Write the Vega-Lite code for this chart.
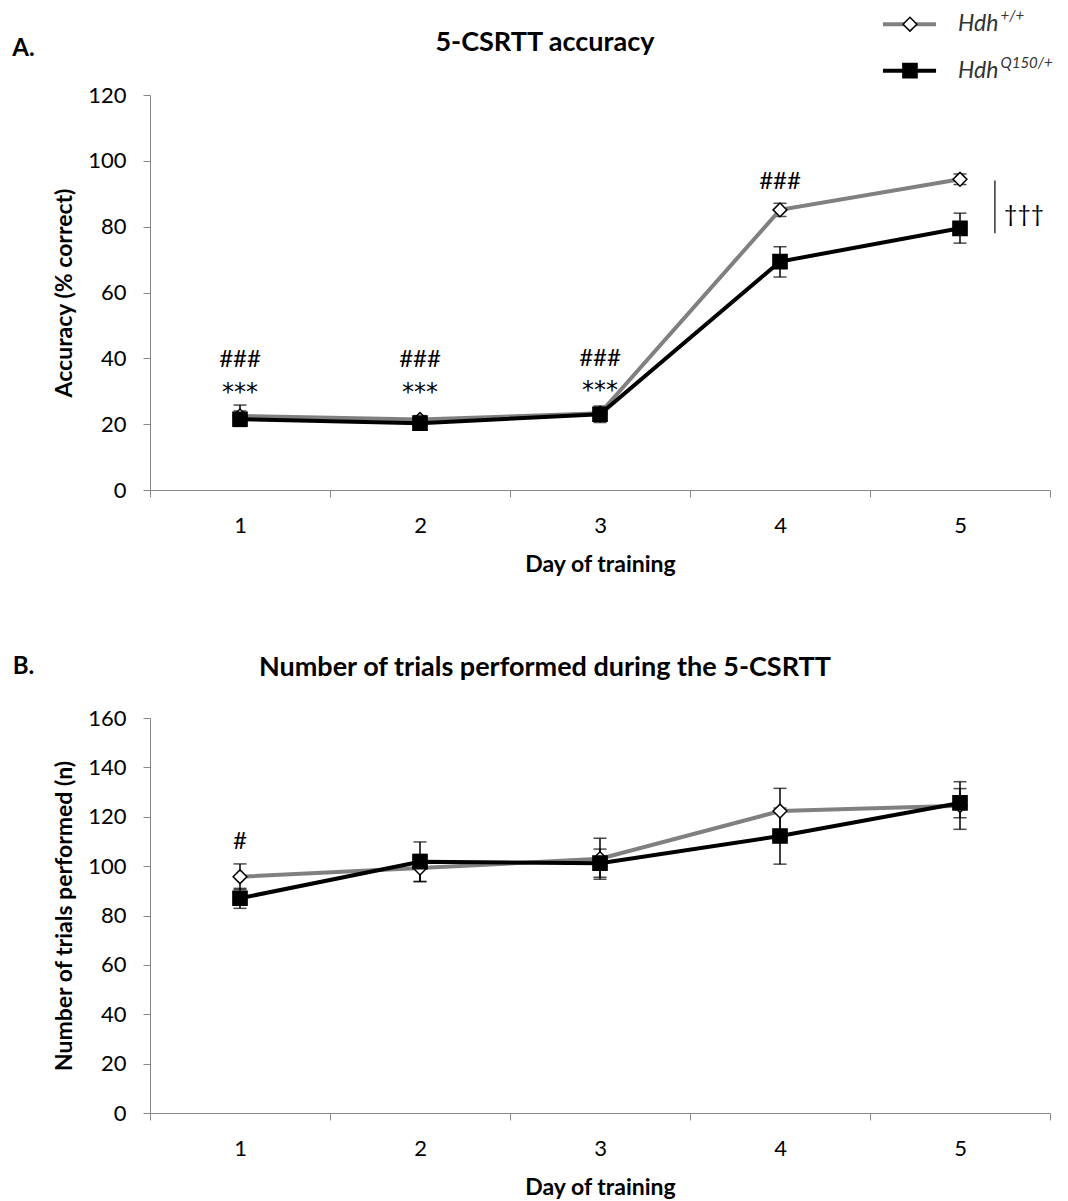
{
  "$schema": "https://vega.github.io/schema/vega-lite/v6.json",
  "autosize": {"type": "pad"},
  "padding": {"left": 12, "top": 9, "right": 0, "bottom": 0},
  "background": "white",
  "spacing": 228,
  "bounds": "flush",
  "datasets": {
    "A": [
      {"day": 1, "genotype": "Hdh+/+", "v": 22.5, "lo": 21.0, "hi": 24.0},
      {"day": 2, "genotype": "Hdh+/+", "v": 21.4, "lo": 20.2, "hi": 22.6},
      {"day": 3, "genotype": "Hdh+/+", "v": 23.3, "lo": 21.8, "hi": 24.8},
      {"day": 4, "genotype": "Hdh+/+", "v": 85.1, "lo": 83.1, "hi": 87.1},
      {"day": 5, "genotype": "Hdh+/+", "v": 94.4, "lo": 92.8, "hi": 96.0},
      {"day": 1, "genotype": "HdhQ150/+", "v": 21.5, "lo": 19.3, "hi": 25.8},
      {"day": 2, "genotype": "HdhQ150/+", "v": 20.3, "lo": 18.8, "hi": 21.8},
      {"day": 3, "genotype": "HdhQ150/+", "v": 23.0, "lo": 20.5, "hi": 25.5},
      {"day": 4, "genotype": "HdhQ150/+", "v": 69.4, "lo": 64.7, "hi": 73.9},
      {"day": 5, "genotype": "HdhQ150/+", "v": 79.5, "lo": 75.0, "hi": 84.1}
    ],
    "B": [
      {"day": 1, "genotype": "Hdh+/+", "v": 95.7, "lo": 90.5, "hi": 100.9},
      {"day": 2, "genotype": "Hdh+/+", "v": 99.2, "lo": 93.7, "hi": 104.7},
      {"day": 3, "genotype": "Hdh+/+", "v": 103.0, "lo": 94.7, "hi": 111.3},
      {"day": 4, "genotype": "Hdh+/+", "v": 122.3, "lo": 113.0, "hi": 131.5},
      {"day": 5, "genotype": "Hdh+/+", "v": 124.5, "lo": 114.9, "hi": 134.2},
      {"day": 1, "genotype": "HdhQ150/+", "v": 87.0, "lo": 82.9, "hi": 91.0},
      {"day": 2, "genotype": "HdhQ150/+", "v": 101.8, "lo": 93.8, "hi": 109.8},
      {"day": 3, "genotype": "HdhQ150/+", "v": 101.2, "lo": 95.5, "hi": 106.9},
      {"day": 4, "genotype": "HdhQ150/+", "v": 112.2, "lo": 100.8, "hi": 123.5},
      {"day": 5, "genotype": "HdhQ150/+", "v": 125.6, "lo": 119.6, "hi": 131.4}
    ],
    "hashA": [
      {"day": 1, "v": 39.5, "t": "###"},
      {"day": 2, "v": 39.5, "t": "###"},
      {"day": 3, "v": 39.8, "t": "###"},
      {"day": 4, "v": 93.7, "t": "###"}
    ],
    "starA": [
      {"day": 1, "v": 29.4, "t": "***"},
      {"day": 2, "v": 29.4, "t": "***"},
      {"day": 3, "v": 30.2, "t": "***"}
    ],
    "annB": [
      {"day": 1, "v": 109.9, "t": "#"}
    ],
    "one": [{}]
  },
  "config": {
    "view": {"stroke": null},
    "font": "Lato",
    "axis": {
      "grid": false,
      "domainColor": "#888888",
      "tickColor": "#888888",
      "domainWidth": 1,
      "tickWidth": 1,
      "tickSize": 7,
      "labelFont": "Lato",
      "labelFontSize": 22,
      "labelColor": "#000000",
      "titleFont": "Lato",
      "titleFontSize": 23,
      "titleFontWeight": "bold",
      "titleColor": "#000000"
    }
  },
  "vconcat": [
    {
      "width": 900,
      "height": 395,
      "layer": [
        {
          "data": {"name": "A"},
          "mark": {"type": "errorbar", "color": "black", "ticks": {"size": 13, "thickness": 1.5}, "rule": {"strokeWidth": 1.5}},
          "encoding": {
            "x": {"field": "day", "type": "quantitative", "scale": {"domain": [0.5, 5.5], "nice": false, "zero": false},
              "axis": {"values": [0.5, 1.5, 2.5, 3.5, 4.5, 5.5], "labelExpr": "datum.value < 5 ? format(datum.value + 0.5, 'd') : ''", "labelOffset": 90, "labelPadding": 18, "labelFlush": false, "labelOverlap": false, "labelBound": false, "title": "Day of training", "titlePadding": 17}},
            "y": {"field": "lo", "type": "quantitative", "scale": {"domain": [0, 120], "nice": false, "zero": false},
              "axis": {"values": [0, 20, 40, 60, 80, 100, 120], "labelPadding": 17, "title": "Accuracy (% correct)", "titlePadding": 11}},
            "y2": {"field": "hi"}
          }
        },
        {
          "data": {"name": "A"},
          "mark": {"type": "line", "strokeWidth": 4},
          "encoding": {
            "x": {"field": "day", "type": "quantitative"},
            "y": {"field": "v", "type": "quantitative"},
            "color": {"field": "genotype", "type": "nominal", "scale": {"domain": ["Hdh+/+", "HdhQ150/+"], "range": ["#808080", "#000000"]}, "legend": null}
          }
        },
        {
          "data": {"name": "A"},
          "mark": {"type": "point", "filled": true, "stroke": "black", "strokeWidth": 1.5, "opacity": 1},
          "encoding": {
            "x": {"field": "day", "type": "quantitative"},
            "y": {"field": "v", "type": "quantitative"},
            "shape": {"field": "genotype", "type": "nominal", "scale": {"domain": ["Hdh+/+", "HdhQ150/+"], "range": ["diamond", "square"]}, "legend": null},
            "fill": {"field": "genotype", "type": "nominal", "scale": {"domain": ["Hdh+/+", "HdhQ150/+"], "range": ["white", "black"]}, "legend": null},
            "size": {"field": "genotype", "type": "nominal", "scale": {"domain": ["Hdh+/+", "HdhQ150/+"], "range": [190, 200]}, "legend": null}
          }
        },
        {
          "data": {"name": "hashA"},
          "mark": {"type": "text", "fontSize": 24, "color": "black", "baseline": "middle", "align": "center"},
          "encoding": {
            "x": {"field": "day", "type": "quantitative"},
            "y": {"field": "v", "type": "quantitative"},
            "text": {"field": "t"}
          }
        },
        {
          "data": {"name": "starA"},
          "mark": {"type": "text", "font": "DejaVu Sans", "fontSize": 24, "color": "black", "baseline": "middle", "align": "center"},
          "encoding": {
            "x": {"field": "day", "type": "quantitative"},
            "y": {"field": "v", "type": "quantitative"},
            "text": {"field": "t"}
          }
        },
        {
          "data": {"name": "one"},
          "mark": {"type": "rule", "color": "black", "strokeWidth": 1.2},
          "encoding": {
            "x": {"datum": 5.194, "type": "quantitative"},
            "y": {"datum": 94.0, "type": "quantitative"},
            "y2": {"datum": 78.0}
          }
        },
        {
          "data": {"name": "one"},
          "mark": {"type": "text", "text": "†††", "fontSize": 23, "color": "black", "baseline": "middle", "align": "center"},
          "encoding": {
            "x": {"datum": 5.356, "type": "quantitative"},
            "y": {"datum": 83.6, "type": "quantitative"}
          }
        },
        {
          "data": {"name": "one"},
          "mark": {"type": "text", "text": "A.", "fontSize": 24, "fontWeight": "bold", "color": "black", "baseline": "middle", "align": "center"},
          "encoding": {
            "x": {"datum": -0.203, "type": "quantitative"},
            "y": {"datum": 134.1, "type": "quantitative"}
          }
        },
        {
          "data": {"name": "one"},
          "mark": {"type": "text", "text": "5-CSRTT accuracy", "fontSize": 27, "fontWeight": "bold", "color": "black", "baseline": "alphabetic", "align": "center"},
          "encoding": {
            "x": {"datum": 2.694, "type": "quantitative"},
            "y": {"datum": 133.4, "type": "quantitative"}
          }
        },
        {
          "data": {"name": "one"},
          "mark": {"type": "rule", "color": "#808080", "strokeWidth": 4},
          "encoding": {
            "x": {"datum": 4.572, "type": "quantitative"},
            "x2": {"datum": 4.867},
            "y": {"datum": 141.5, "type": "quantitative"}
          }
        },
        {
          "data": {"name": "one"},
          "mark": {"type": "point", "shape": "diamond", "size": 190, "filled": true, "fill": "white", "stroke": "black", "strokeWidth": 1.5, "opacity": 1},
          "encoding": {
            "x": {"datum": 4.722, "type": "quantitative"},
            "y": {"datum": 141.5, "type": "quantitative"}
          }
        },
        {
          "data": {"name": "one"},
          "mark": {"type": "text", "text": "Hdh", "fontSize": 23, "fontStyle": "italic", "color": "#333333", "baseline": "middle", "align": "left"},
          "encoding": {
            "x": {"datum": 4.989, "type": "quantitative"},
            "y": {"datum": 141.5, "type": "quantitative"}
          }
        },
        {
          "data": {"name": "one"},
          "mark": {"type": "text", "text": "+/+", "fontSize": 15, "fontStyle": "italic", "color": "#333333", "baseline": "middle", "align": "left", "dy": -8},
          "encoding": {
            "x": {"datum": 5.225, "type": "quantitative"},
            "y": {"datum": 141.5, "type": "quantitative"}
          }
        },
        {
          "data": {"name": "one"},
          "mark": {"type": "rule", "color": "#000000", "strokeWidth": 4},
          "encoding": {
            "x": {"datum": 4.572, "type": "quantitative"},
            "x2": {"datum": 4.867},
            "y": {"datum": 127.4, "type": "quantitative"}
          }
        },
        {
          "data": {"name": "one"},
          "mark": {"type": "point", "shape": "square", "size": 200, "filled": true, "fill": "black", "stroke": "black", "strokeWidth": 1.5, "opacity": 1},
          "encoding": {
            "x": {"datum": 4.722, "type": "quantitative"},
            "y": {"datum": 127.4, "type": "quantitative"}
          }
        },
        {
          "data": {"name": "one"},
          "mark": {"type": "text", "text": "Hdh", "fontSize": 23, "fontStyle": "italic", "color": "#333333", "baseline": "middle", "align": "left"},
          "encoding": {
            "x": {"datum": 4.989, "type": "quantitative"},
            "y": {"datum": 127.4, "type": "quantitative"}
          }
        },
        {
          "data": {"name": "one"},
          "mark": {"type": "text", "text": "Q150/+", "fontSize": 15, "fontStyle": "italic", "color": "#333333", "baseline": "middle", "align": "left", "dy": -8},
          "encoding": {
            "x": {"datum": 5.225, "type": "quantitative"},
            "y": {"datum": 127.4, "type": "quantitative"}
          }
        }
      ]
    },
    {
      "width": 900,
      "height": 395,
      "layer": [
        {
          "data": {"name": "B"},
          "mark": {"type": "errorbar", "color": "black", "ticks": {"size": 13, "thickness": 1.5}, "rule": {"strokeWidth": 1.5}},
          "encoding": {
            "x": {"field": "day", "type": "quantitative", "scale": {"domain": [0.5, 5.5], "nice": false, "zero": false},
              "axis": {"values": [0.5, 1.5, 2.5, 3.5, 4.5, 5.5], "labelExpr": "datum.value < 5 ? format(datum.value + 0.5, 'd') : ''", "labelOffset": 90, "labelPadding": 18, "labelFlush": false, "labelOverlap": false, "labelBound": false, "title": "Day of training", "titlePadding": 17}},
            "y": {"field": "lo", "type": "quantitative", "scale": {"domain": [0, 160], "nice": false, "zero": false},
              "axis": {"values": [0, 20, 40, 60, 80, 100, 120, 140, 160], "labelPadding": 17, "title": "Number of trials performed (n)", "titlePadding": 11}},
            "y2": {"field": "hi"}
          }
        },
        {
          "data": {"name": "B"},
          "mark": {"type": "line", "strokeWidth": 4},
          "encoding": {
            "x": {"field": "day", "type": "quantitative"},
            "y": {"field": "v", "type": "quantitative"},
            "color": {"field": "genotype", "type": "nominal", "scale": {"domain": ["Hdh+/+", "HdhQ150/+"], "range": ["#808080", "#000000"]}, "legend": null}
          }
        },
        {
          "data": {"name": "B"},
          "mark": {"type": "point", "filled": true, "stroke": "black", "strokeWidth": 1.5, "opacity": 1},
          "encoding": {
            "x": {"field": "day", "type": "quantitative"},
            "y": {"field": "v", "type": "quantitative"},
            "shape": {"field": "genotype", "type": "nominal", "scale": {"domain": ["Hdh+/+", "HdhQ150/+"], "range": ["diamond", "square"]}, "legend": null},
            "fill": {"field": "genotype", "type": "nominal", "scale": {"domain": ["Hdh+/+", "HdhQ150/+"], "range": ["white", "black"]}, "legend": null},
            "size": {"field": "genotype", "type": "nominal", "scale": {"domain": ["Hdh+/+", "HdhQ150/+"], "range": [190, 200]}, "legend": null}
          }
        },
        {
          "data": {"name": "annB"},
          "mark": {"type": "text", "fontSize": 24, "color": "black", "baseline": "middle", "align": "center"},
          "encoding": {
            "x": {"field": "day", "type": "quantitative"},
            "y": {"field": "v", "type": "quantitative"},
            "text": {"field": "t"}
          }
        },
        {
          "data": {"name": "one"},
          "mark": {"type": "text", "text": "B.", "fontSize": 24, "fontWeight": "bold", "color": "black", "baseline": "middle", "align": "center"},
          "encoding": {
            "x": {"datum": -0.203, "type": "quantitative"},
            "y": {"datum": 180.5, "type": "quantitative"}
          }
        },
        {
          "data": {"name": "one"},
          "mark": {"type": "text", "text": "Number of trials performed during the 5-CSRTT", "fontSize": 27, "fontWeight": "bold", "color": "black", "baseline": "alphabetic", "align": "center"},
          "encoding": {
            "x": {"datum": 2.694, "type": "quantitative"},
            "y": {"datum": 177.0, "type": "quantitative"}
          }
        }
      ]
    }
  ]
}
